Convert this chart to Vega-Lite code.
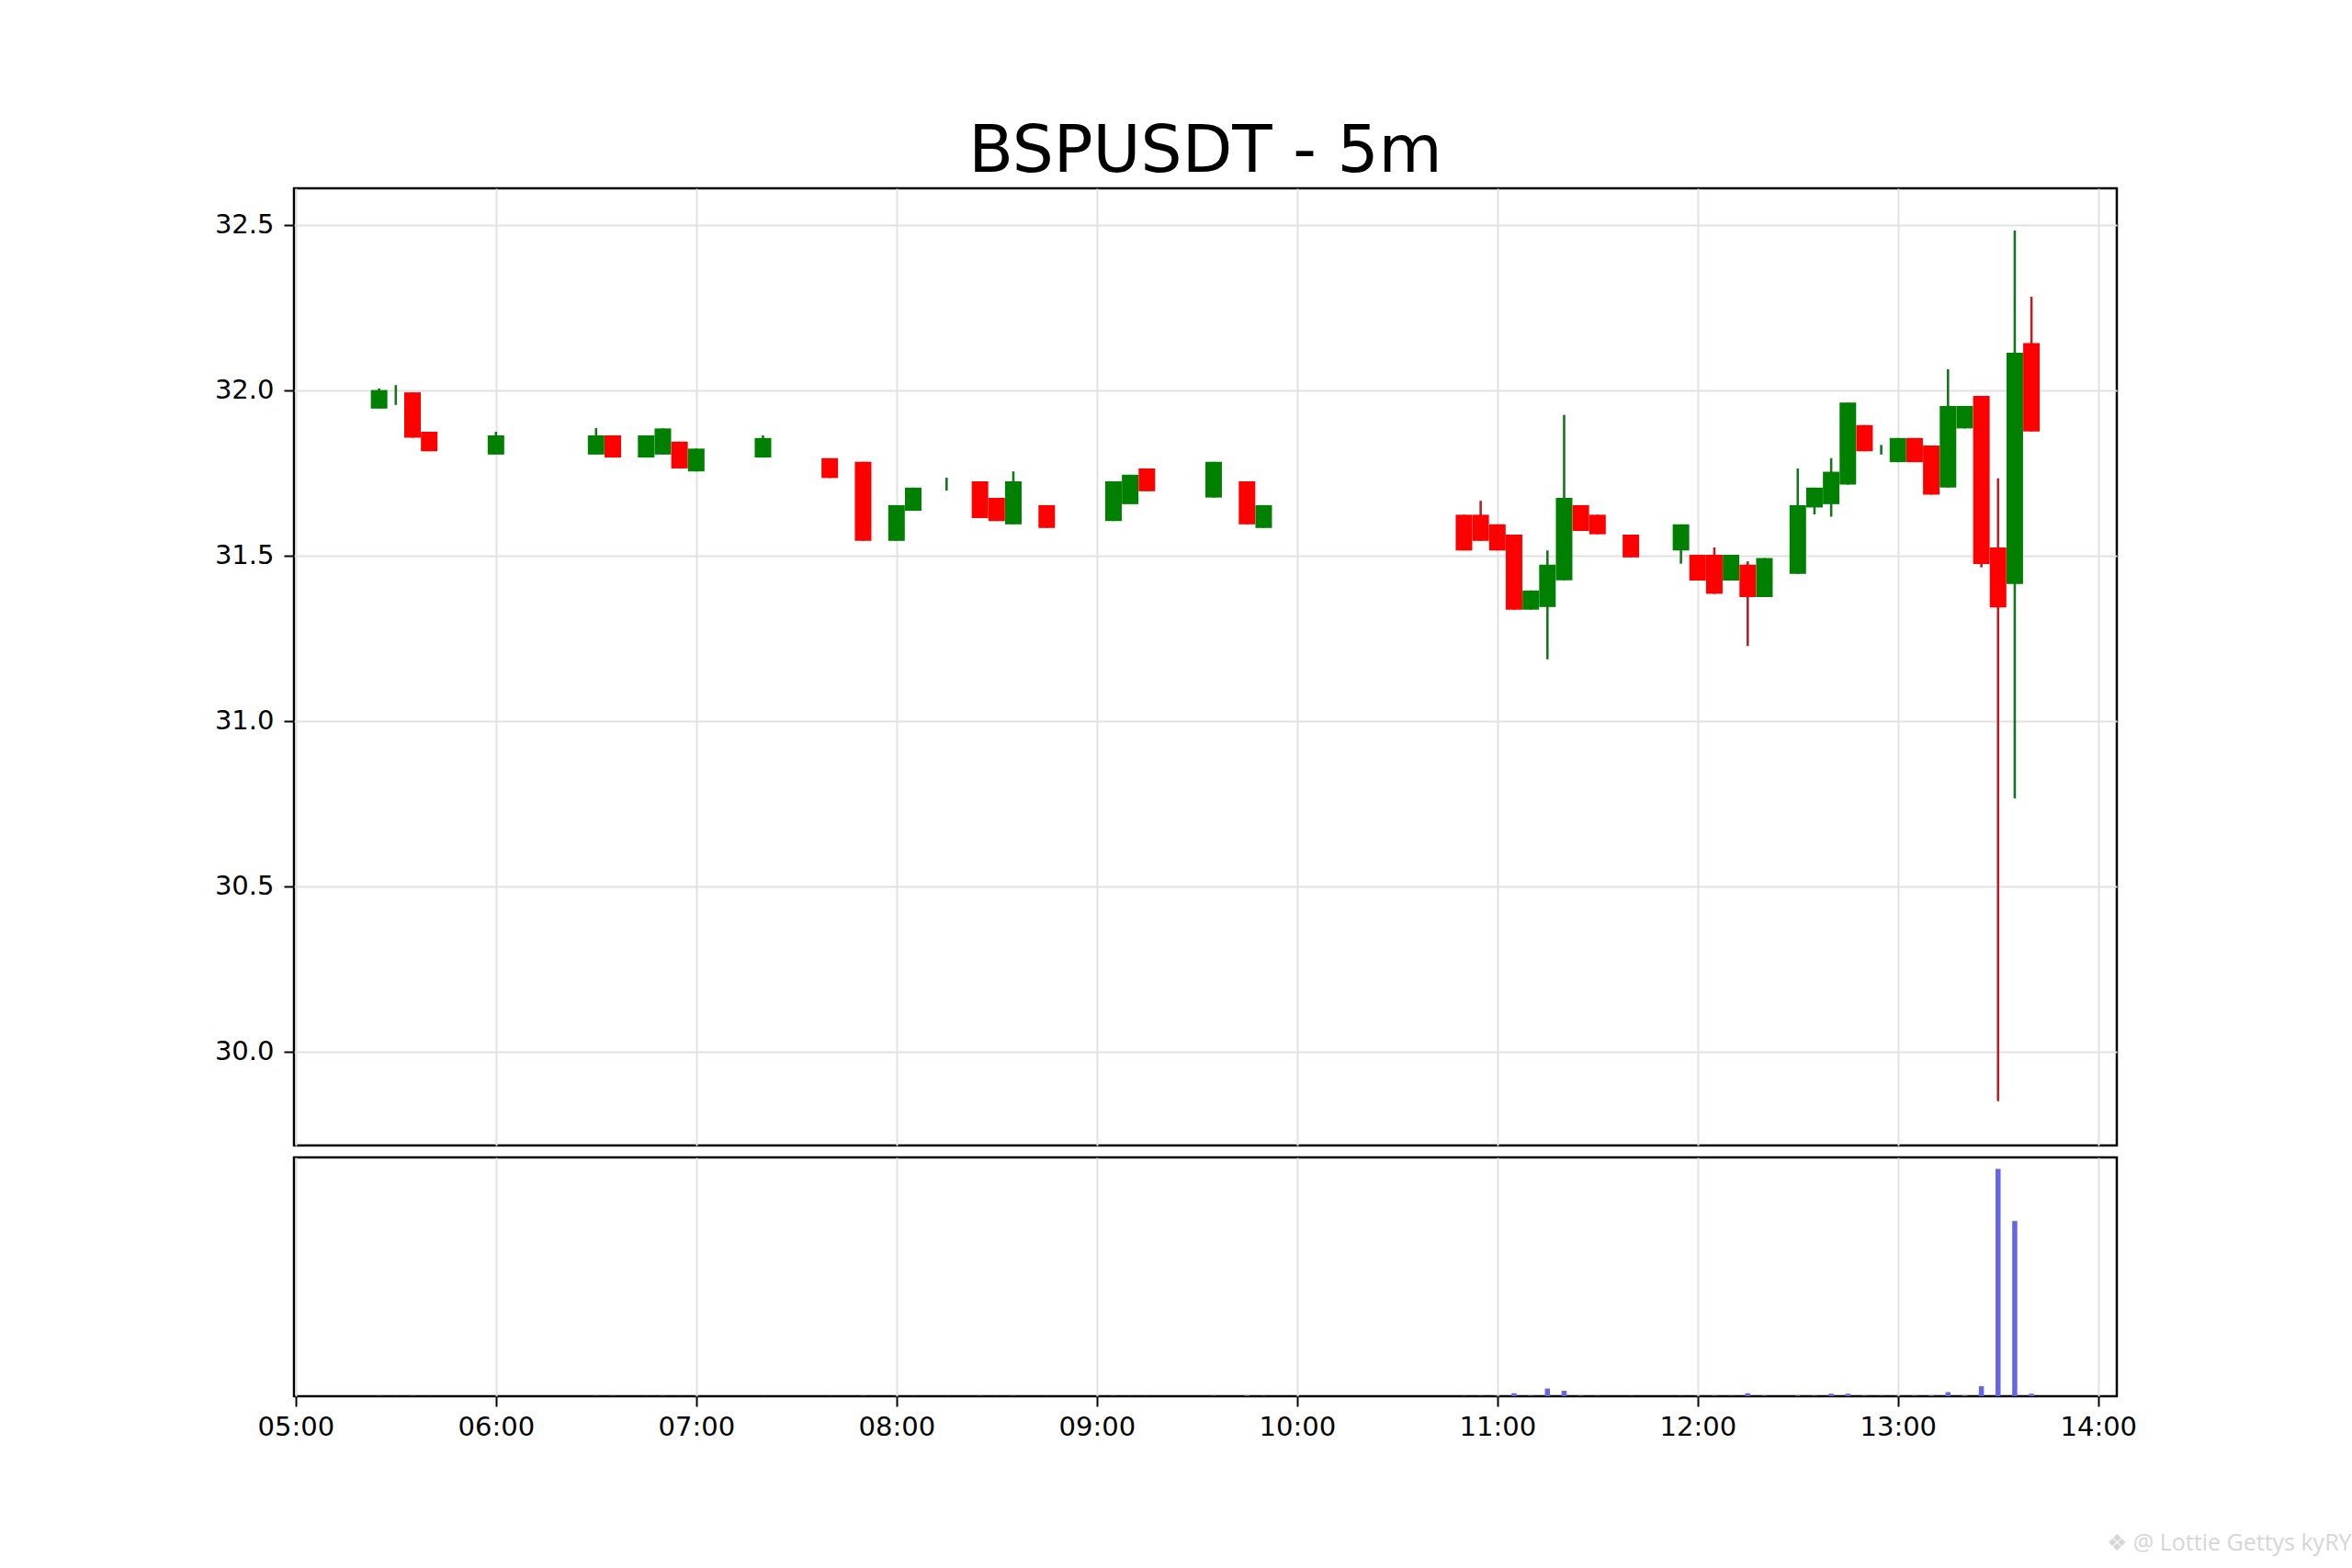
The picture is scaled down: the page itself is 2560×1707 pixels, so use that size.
{
  "$schema": "https://vega.github.io/schema/vega-lite/v6.json",
  "padding": {"left": 232, "top": 128, "right": 0, "bottom": 0},
  "background": "white",
  "spacing": 9,
  "config": {
    "font": "DejaVu Sans",
    "view": {"stroke": "black", "strokeWidth": 2.5},
    "axis": {
      "labelFont": "DejaVu Sans",
      "labelFontSize": 29,
      "labelColor": "black",
      "tickColor": "black",
      "tickWidth": 2,
      "tickSize": 11,
      "labelPadding": 11,
      "domain": false,
      "grid": true,
      "gridColor": "#e2e2e2",
      "gridWidth": 2
    }
  },
  "datasets": {
    "candles": [
      {"t": "2024-03-01T05:25:00", "dir": "up", "open": 31.944, "high": 32.005, "low": 31.944, "close": 32.0, "volume": 0.1},
      {"t": "2024-03-01T05:30:00", "dir": "up", "open": 31.985, "high": 32.015, "low": 31.955, "close": 31.985, "volume": 0.05},
      {"t": "2024-03-01T05:35:00", "dir": "down", "open": 31.993, "high": 31.993, "low": 31.856, "close": 31.856, "volume": 0.1},
      {"t": "2024-03-01T05:40:00", "dir": "down", "open": 31.874, "high": 31.874, "low": 31.815, "close": 31.815, "volume": 0.05},
      {"t": "2024-03-01T06:00:00", "dir": "up", "open": 31.805, "high": 31.874, "low": 31.805, "close": 31.863, "volume": 0.05},
      {"t": "2024-03-01T06:30:00", "dir": "up", "open": 31.805, "high": 31.885, "low": 31.805, "close": 31.863, "volume": 0.1},
      {"t": "2024-03-01T06:35:00", "dir": "down", "open": 31.863, "high": 31.863, "low": 31.796, "close": 31.796, "volume": 0.1},
      {"t": "2024-03-01T06:45:00", "dir": "up", "open": 31.796, "high": 31.863, "low": 31.796, "close": 31.863, "volume": 0.05},
      {"t": "2024-03-01T06:50:00", "dir": "up", "open": 31.805, "high": 31.884, "low": 31.805, "close": 31.884, "volume": 0.1},
      {"t": "2024-03-01T06:55:00", "dir": "down", "open": 31.844, "high": 31.844, "low": 31.763, "close": 31.763, "volume": 0.05},
      {"t": "2024-03-01T07:00:00", "dir": "up", "open": 31.754, "high": 31.823, "low": 31.754, "close": 31.823, "volume": 0.1},
      {"t": "2024-03-01T07:20:00", "dir": "up", "open": 31.796, "high": 31.863, "low": 31.796, "close": 31.855, "volume": 0.05},
      {"t": "2024-03-01T07:40:00", "dir": "down", "open": 31.794, "high": 31.794, "low": 31.734, "close": 31.734, "volume": 0.05},
      {"t": "2024-03-01T07:50:00", "dir": "down", "open": 31.783, "high": 31.783, "low": 31.544, "close": 31.544, "volume": 0.1},
      {"t": "2024-03-01T08:00:00", "dir": "up", "open": 31.544, "high": 31.652, "low": 31.544, "close": 31.652, "volume": 0.1},
      {"t": "2024-03-01T08:05:00", "dir": "up", "open": 31.635, "high": 31.705, "low": 31.635, "close": 31.705, "volume": 0.05},
      {"t": "2024-03-01T08:15:00", "dir": "up", "open": 31.715, "high": 31.735, "low": 31.696, "close": 31.715, "volume": 0.05},
      {"t": "2024-03-01T08:25:00", "dir": "down", "open": 31.724, "high": 31.724, "low": 31.613, "close": 31.613, "volume": 0.1},
      {"t": "2024-03-01T08:30:00", "dir": "down", "open": 31.674, "high": 31.674, "low": 31.604, "close": 31.604, "volume": 0.05},
      {"t": "2024-03-01T08:35:00", "dir": "up", "open": 31.594, "high": 31.754, "low": 31.594, "close": 31.724, "volume": 0.1},
      {"t": "2024-03-01T08:45:00", "dir": "down", "open": 31.652, "high": 31.652, "low": 31.583, "close": 31.583, "volume": 0.05},
      {"t": "2024-03-01T09:05:00", "dir": "up", "open": 31.604, "high": 31.724, "low": 31.604, "close": 31.724, "volume": 0.1},
      {"t": "2024-03-01T09:10:00", "dir": "up", "open": 31.655, "high": 31.744, "low": 31.655, "close": 31.744, "volume": 0.05},
      {"t": "2024-03-01T09:15:00", "dir": "down", "open": 31.763, "high": 31.763, "low": 31.694, "close": 31.694, "volume": 0.05},
      {"t": "2024-03-01T09:35:00", "dir": "up", "open": 31.675, "high": 31.783, "low": 31.675, "close": 31.783, "volume": 0.1},
      {"t": "2024-03-01T09:45:00", "dir": "down", "open": 31.724, "high": 31.724, "low": 31.594, "close": 31.594, "volume": 0.3},
      {"t": "2024-03-01T09:50:00", "dir": "up", "open": 31.583, "high": 31.652, "low": 31.583, "close": 31.652, "volume": 0.1},
      {"t": "2024-03-01T10:50:00", "dir": "down", "open": 31.623, "high": 31.623, "low": 31.515, "close": 31.515, "volume": 0.1},
      {"t": "2024-03-01T10:55:00", "dir": "down", "open": 31.623, "high": 31.665, "low": 31.544, "close": 31.544, "volume": 0.1},
      {"t": "2024-03-01T11:00:00", "dir": "down", "open": 31.594, "high": 31.594, "low": 31.515, "close": 31.515, "volume": 0.2},
      {"t": "2024-03-01T11:05:00", "dir": "down", "open": 31.563, "high": 31.563, "low": 31.336, "close": 31.336, "volume": 1.3},
      {"t": "2024-03-01T11:10:00", "dir": "up", "open": 31.336, "high": 31.394, "low": 31.336, "close": 31.394, "volume": 0.2},
      {"t": "2024-03-01T11:15:00", "dir": "up", "open": 31.344, "high": 31.515, "low": 31.186, "close": 31.472, "volume": 3.4},
      {"t": "2024-03-01T11:20:00", "dir": "up", "open": 31.425, "high": 31.925, "low": 31.425, "close": 31.674, "volume": 2.4},
      {"t": "2024-03-01T11:25:00", "dir": "down", "open": 31.652, "high": 31.652, "low": 31.574, "close": 31.574, "volume": 0.2},
      {"t": "2024-03-01T11:30:00", "dir": "down", "open": 31.623, "high": 31.623, "low": 31.564, "close": 31.564, "volume": 0.1},
      {"t": "2024-03-01T11:40:00", "dir": "down", "open": 31.563, "high": 31.563, "low": 31.494, "close": 31.494, "volume": 0.1},
      {"t": "2024-03-01T11:55:00", "dir": "up", "open": 31.515, "high": 31.594, "low": 31.475, "close": 31.594, "volume": 0.1},
      {"t": "2024-03-01T12:00:00", "dir": "down", "open": 31.502, "high": 31.502, "low": 31.424, "close": 31.424, "volume": 0.1},
      {"t": "2024-03-01T12:05:00", "dir": "down", "open": 31.502, "high": 31.524, "low": 31.384, "close": 31.384, "volume": 0.2},
      {"t": "2024-03-01T12:10:00", "dir": "up", "open": 31.424, "high": 31.502, "low": 31.424, "close": 31.502, "volume": 0.1},
      {"t": "2024-03-01T12:15:00", "dir": "down", "open": 31.472, "high": 31.482, "low": 31.226, "close": 31.374, "volume": 1.3},
      {"t": "2024-03-01T12:20:00", "dir": "up", "open": 31.374, "high": 31.492, "low": 31.374, "close": 31.492, "volume": 0.2},
      {"t": "2024-03-01T12:30:00", "dir": "up", "open": 31.444, "high": 31.763, "low": 31.444, "close": 31.652, "volume": 0.3},
      {"t": "2024-03-01T12:35:00", "dir": "up", "open": 31.645, "high": 31.705, "low": 31.624, "close": 31.705, "volume": 0.2},
      {"t": "2024-03-01T12:40:00", "dir": "up", "open": 31.655, "high": 31.794, "low": 31.617, "close": 31.753, "volume": 1.1},
      {"t": "2024-03-01T12:45:00", "dir": "up", "open": 31.714, "high": 31.962, "low": 31.714, "close": 31.962, "volume": 1.1},
      {"t": "2024-03-01T12:50:00", "dir": "down", "open": 31.894, "high": 31.894, "low": 31.815, "close": 31.815, "volume": 0.2},
      {"t": "2024-03-01T12:55:00", "dir": "up", "open": 31.82, "high": 31.834, "low": 31.805, "close": 31.82, "volume": 0.1},
      {"t": "2024-03-01T13:00:00", "dir": "up", "open": 31.782, "high": 31.855, "low": 31.782, "close": 31.855, "volume": 0.2},
      {"t": "2024-03-01T13:05:00", "dir": "down", "open": 31.855, "high": 31.855, "low": 31.782, "close": 31.782, "volume": 0.2},
      {"t": "2024-03-01T13:10:00", "dir": "down", "open": 31.832, "high": 31.832, "low": 31.684, "close": 31.684, "volume": 0.3},
      {"t": "2024-03-01T13:15:00", "dir": "up", "open": 31.705, "high": 32.063, "low": 31.705, "close": 31.952, "volume": 1.8},
      {"t": "2024-03-01T13:20:00", "dir": "up", "open": 31.884, "high": 31.952, "low": 31.884, "close": 31.952, "volume": 0.3},
      {"t": "2024-03-01T13:25:00", "dir": "down", "open": 31.982, "high": 31.982, "low": 31.464, "close": 31.474, "volume": 4.4},
      {"t": "2024-03-01T13:30:00", "dir": "down", "open": 31.524, "high": 31.733, "low": 29.85, "close": 31.343, "volume": 100},
      {"t": "2024-03-01T13:35:00", "dir": "up", "open": 31.414, "high": 32.482, "low": 30.765, "close": 32.113, "volume": 77},
      {"t": "2024-03-01T13:40:00", "dir": "down", "open": 32.142, "high": 32.282, "low": 31.875, "close": 31.875, "volume": 1.1}
    ]
  },
  "vconcat": [
    {
      "width": 1984,
      "height": 1042,
      "title": {
        "text": "BSPUSDT - 5m",
        "fontSize": 71,
        "fontWeight": "normal",
        "font": "DejaVu Sans",
        "color": "black",
        "anchor": "middle",
        "offset": 3
      },
      "data": {"name": "candles"},
      "encoding": {
        "x": {
          "field": "t",
          "type": "temporal",
          "title": null,
          "scale": {
            "nice": false,
            "padding": 0,
            "domain": [
              {"year": 2024, "month": 3, "date": 1, "hours": 4, "minutes": 59, "seconds": 30},
              {"year": 2024, "month": 3, "date": 1, "hours": 14, "minutes": 5, "seconds": 34}
            ]
          },
          "axis": {"labels": false, "ticks": false, "tickCount": "hour"}
        }
      },
      "layer": [
        {
          "mark": {"type": "rule", "strokeWidth": 2.6},
          "encoding": {
            "y": {
              "field": "low",
              "type": "quantitative",
              "title": null,
              "scale": {"domain": [29.716, 32.61], "nice": false, "zero": false},
              "axis": {"values": [30, 30.5, 31, 31.5, 32, 32.5], "format": ".1f"}
            },
            "y2": {"field": "high"},
            "color": {
              "field": "dir",
              "type": "nominal",
              "legend": null,
              "scale": {"domain": ["up", "down"], "range": ["#15751c", "#b5202a"]}
            }
          }
        },
        {
          "mark": {"type": "bar", "size": 18},
          "encoding": {
            "y": {"field": "open", "type": "quantitative", "title": null},
            "y2": {"field": "close"},
            "color": {
              "field": "dir",
              "type": "nominal",
              "legend": null,
              "scale": {"domain": ["up", "down"], "range": ["#008000", "#ff0000"]}
            }
          }
        }
      ],
      "resolve": {"scale": {"color": "independent"}}
    },
    {
      "width": 1984,
      "height": 260,
      "title": {
        "text": "❖ @ Lottie Gettys kyRY",
        "orient": "bottom",
        "anchor": "end",
        "font": "Open Sans",
        "fontSize": 25,
        "fontWeight": "normal",
        "color": "#d6d6d6",
        "dx": 234,
        "offset": 100
      },
      "data": {"name": "candles"},
      "mark": {"type": "bar", "size": 5.5, "color": "#6666e0"},
      "encoding": {
        "x": {
          "field": "t",
          "type": "temporal",
          "title": null,
          "scale": {
            "nice": false,
            "padding": 0,
            "domain": [
              {"year": 2024, "month": 3, "date": 1, "hours": 4, "minutes": 59, "seconds": 30},
              {"year": 2024, "month": 3, "date": 1, "hours": 14, "minutes": 5, "seconds": 34}
            ]
          },
          "axis": {"format": "%H:%M", "labelAngle": 0, "labelFlush": false, "labelPadding": 8, "tickCount": "hour"}
        },
        "y": {
          "field": "volume",
          "type": "quantitative",
          "title": null,
          "scale": {"domain": [0, 105], "nice": false},
          "axis": null
        }
      }
    }
  ]
}
